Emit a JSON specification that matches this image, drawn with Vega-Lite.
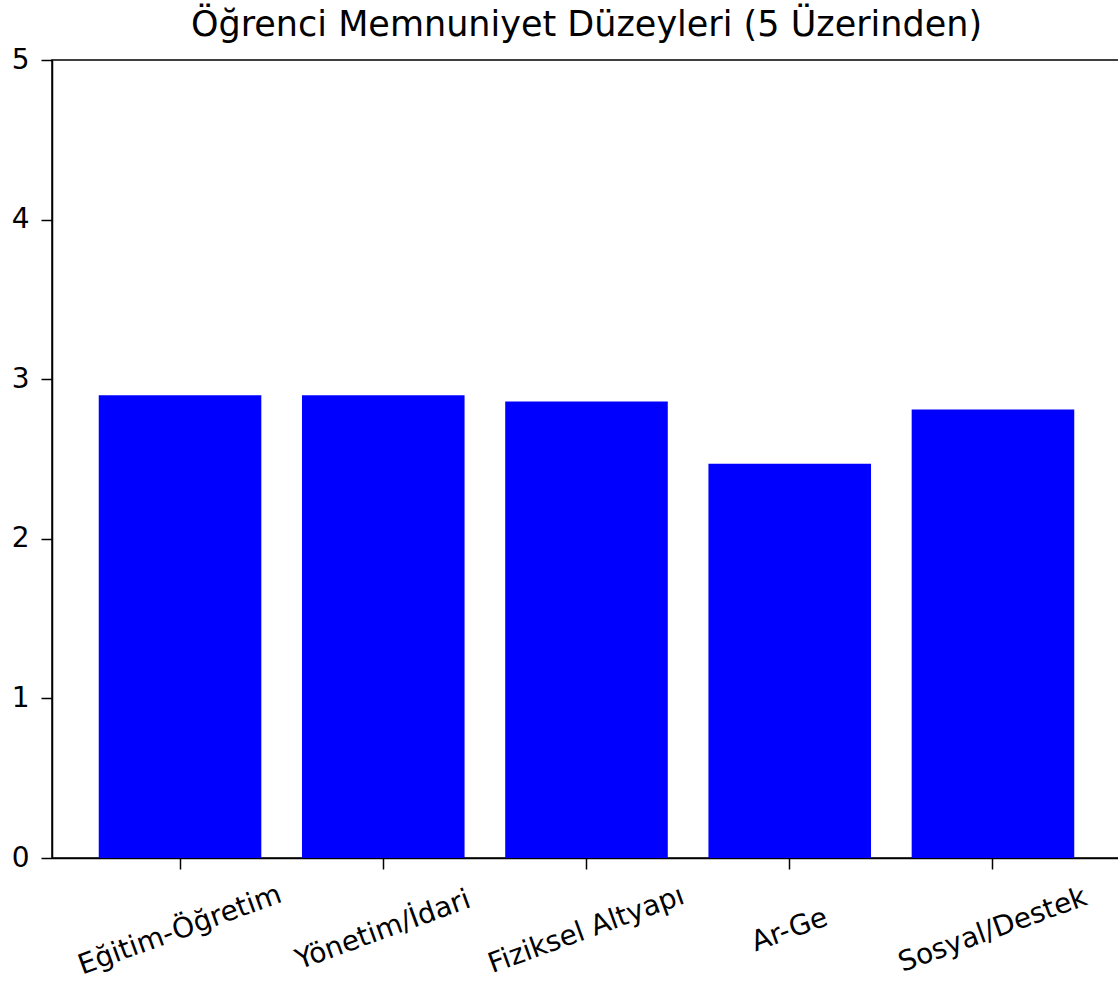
{
  "$schema": "https://vega.github.io/schema/vega-lite/v6.json",
  "autosize": {"type": "none"},
  "padding": {"left": 52, "top": 60, "right": 0, "bottom": 139},
  "width": 1069,
  "height": 798,
  "background": "white",
  "title": {
    "text": "Öğrenci Memnuniyet Düzeyleri (5 Üzerinden)",
    "font": "DejaVu Sans",
    "fontSize": 35,
    "fontWeight": "normal",
    "color": "black",
    "anchor": "middle",
    "offset": 3
  },
  "config": {
    "view": {"stroke": "black", "strokeWidth": 1.5},
    "axis": {
      "labelFont": "DejaVu Sans",
      "labelFontSize": 28,
      "labelColor": "black",
      "labelLimit": 400,
      "domainColor": "black",
      "domainWidth": 1.5,
      "tickColor": "black",
      "tickWidth": 1.5,
      "tickSize": 11,
      "grid": false,
      "title": null
    }
  },
  "data": {
    "values": [
      {"kategori": "Eğitim-Öğretim", "puan": 2.90},
      {"kategori": "Yönetim/İdari", "puan": 2.90},
      {"kategori": "Fiziksel Altyapı", "puan": 2.86},
      {"kategori": "Ar-Ge", "puan": 2.47},
      {"kategori": "Sosyal/Destek", "puan": 2.81}
    ]
  },
  "mark": {"type": "bar", "color": "#0000ff"},
  "encoding": {
    "x": {
      "field": "kategori",
      "type": "nominal",
      "sort": null,
      "scale": {"paddingInner": 0.2, "paddingOuter": 0.23},
      "axis": {
        "labelAngle": -20,
        "labelAlign": "center",
        "labelBaseline": "middle",
        "labelPadding": 61,
        "labelOverlap": false
      }
    },
    "y": {
      "field": "puan",
      "type": "quantitative",
      "scale": {"domain": [0, 5]},
      "axis": {"values": [0, 1, 2, 3, 4, 5], "format": "d", "labelPadding": 12}
    }
  }
}
